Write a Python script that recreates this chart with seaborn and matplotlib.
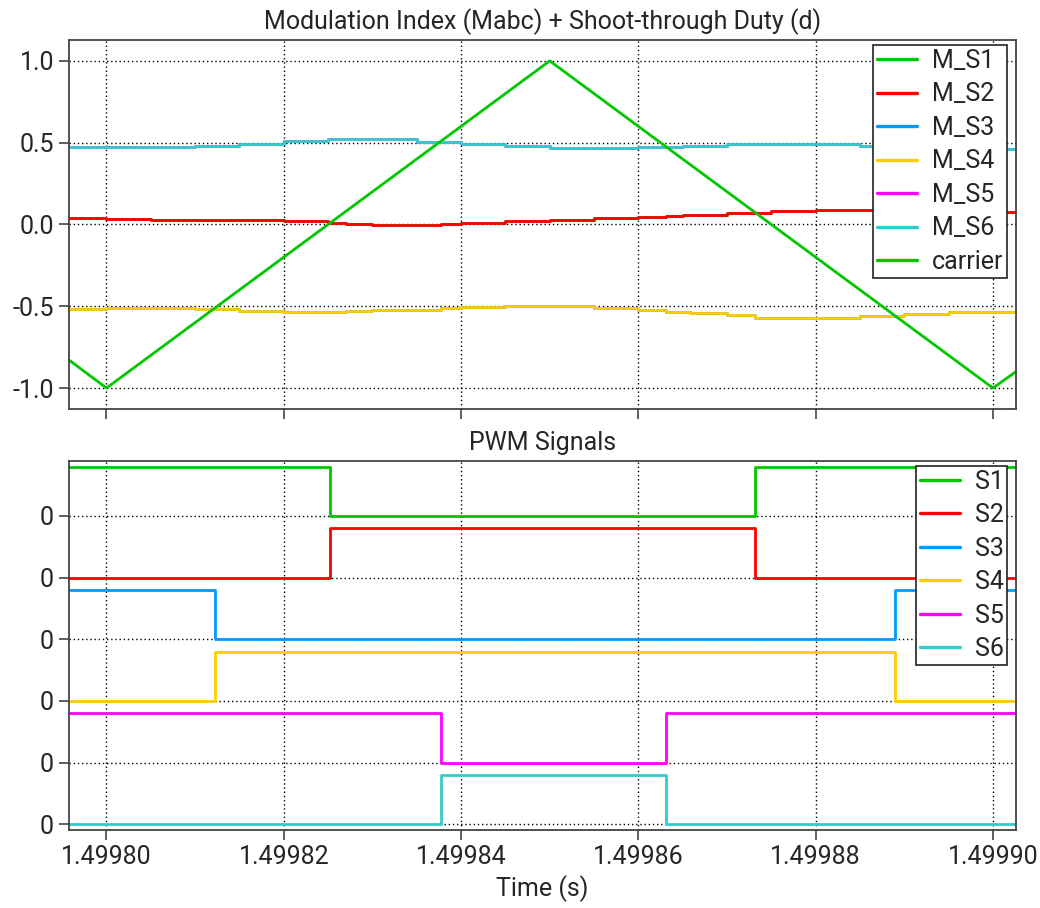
import pandas as pd
import matplotlib
matplotlib.use('Agg')
import matplotlib.pyplot as plt
import seaborn as sns

# ── Data ─────────────────────────────────────────────────────────────────────
X_MIN, X_MAX = 1.4997958, 1.4999026

# modulation signals: step start times + values (steps-post)
M_S12_T = [X_MIN, 1.499800, 1.499805, 1.499810, 1.499820, 1.499825, 1.4998270,
           1.499830, 1.4998377, 1.499840, 1.499845, 1.499850, 1.499855, 1.499860,
           1.4998631, 1.499865, 1.499870, 1.499875, 1.499880, 1.499895, 1.499900]
M_S12_V = [0.038, 0.034, 0.029, 0.026, 0.020, 0.009, 0.003,
           -0.003, 0.005, 0.011, 0.020, 0.028, 0.038, 0.048,
           0.054, 0.060, 0.072, 0.083, 0.089, 0.082, 0.075]

M_S34_T = [X_MIN, 1.499800, 1.499810, 1.499815, 1.499820, 1.4998270, 1.499830,
           1.499835, 1.4998377, 1.499840, 1.499845, 1.499855, 1.499860, 1.4998631,
           1.4998658, 1.499870, 1.4998732, 1.499885, 1.499890, 1.499895]
M_S34_V = [-0.517, -0.509, -0.517, -0.527, -0.535, -0.531, -0.525,
           -0.523, -0.513, -0.505, -0.497, -0.511, -0.521, -0.535,
           -0.544, -0.556, -0.570, -0.562, -0.550, -0.535]

M_S56_T = [X_MIN, 1.499810, 1.499815, 1.499820, 1.499825, 1.499835, 1.499840,
           1.499845, 1.499850, 1.499860, 1.499865, 1.499870, 1.499885, 1.499890,
           1.499895]
M_S56_V = [0.474, 0.482, 0.492, 0.509, 0.521, 0.506, 0.492,
           0.478, 0.466, 0.474, 0.482, 0.490, 0.478, 0.470,
           0.460]

CARRIER_T = [X_MIN, 1.49980, 1.49985, 1.49990, X_MAX]
CARRIER_V = [-0.83, -1.0, 1.0, -1.0, -0.90]

# PWM gate signals: edge times + levels (0/1)
S1_T, S1_V = [X_MIN, 1.4998252, 1.4998732], [1, 0, 1]
S2_T, S2_V = [X_MIN, 1.4998252, 1.4998732], [0, 1, 0]
S3_T, S3_V = [X_MIN, 1.4998122, 1.4998890], [1, 0, 1]
S4_T, S4_V = [X_MIN, 1.4998122, 1.4998890], [0, 1, 0]
S5_T, S5_V = [X_MIN, 1.4998377, 1.4998631], [1, 0, 1]
S6_T, S6_V = [X_MIN, 1.4998377, 1.4998631], [0, 1, 0]

X_TICKS = [1.49980, 1.49982, 1.49984, 1.49986, 1.49988, 1.49990]

# ── Palette ──────────────────────────────────────────────────────────────────
GREEN   = "#00C800"
RED     = "#FF0000"
BLUE    = "#0099FF"
YELLOW  = "#FFCC00"
MAGENTA = "#FF00FF"
CYAN    = "#33CCCC"
SPINE   = "#444444"

OFFSET = 1.25   # vertical spacing between stacked PWM traces

sns.set_style('white')
plt.rcParams['font.family'] = ['Roboto', 'DejaVu Sans']
plt.rcParams['axes.unicode_minus'] = False
FS = 18


def step_df(t, v):
    # extend last level to the right edge
    return pd.DataFrame({'t': list(t) + [X_MAX], 'v': list(v) + [v[-1]]})


def trace(ax, t, v, color, label, offset=0.0, steps=True):
    df = step_df(t, v) if steps else pd.DataFrame({'t': t, 'v': v})
    df['v'] = df['v'] + offset
    sns.lineplot(data=df, x='t', y='v', ax=ax, color=color, label=label,
                 estimator=None, sort=False, linewidth=2.0,
                 drawstyle='steps-post' if steps else 'default')


def style(ax):
    for s in ax.spines.values():
        s.set_color(SPINE)
        s.set_linewidth(1.3)
    ax.grid(True, color='black', linestyle=(0, (1, 2)), linewidth=1.0)
    ax.tick_params(axis='both', direction='out', length=7, width=1.2,
                   color=SPINE, labelsize=FS, pad=4, left=True, bottom=True)
    ax.set_xlim(X_MIN, X_MAX)
    ax.set_xticks(X_TICKS)
    ax.set_xlabel('')
    ax.set_ylabel('')


def legend(ax):
    leg = ax.legend(loc='upper right', bbox_to_anchor=(0.991, 0.986),
                    fontsize=FS, frameon=True, fancybox=False, framealpha=1,
                    edgecolor='#222222', borderpad=0.15, borderaxespad=0,
                    labelspacing=0.38, handlelength=1.6, handletextpad=0.6)
    leg.get_frame().set_linewidth(1.2)
    for h in leg.get_lines():
        h.set_linewidth(2.4)


fig = plt.figure(figsize=(10.4, 9.08), dpi=100)
ax1 = fig.add_axes([0.0666, 0.5496, 0.9103, 0.4064])
ax2 = fig.add_axes([0.0666, 0.0859, 0.9103, 0.4067])

# ── Top: modulation index + carrier ──────────────────────────────────────────
trace(ax1, M_S12_T, M_S12_V, GREEN, 'M_S1')
trace(ax1, M_S12_T, M_S12_V, RED, 'M_S2')
trace(ax1, M_S34_T, M_S34_V, BLUE, 'M_S3')
trace(ax1, M_S34_T, M_S34_V, YELLOW, 'M_S4')
trace(ax1, M_S56_T, M_S56_V, MAGENTA, 'M_S5')
trace(ax1, M_S56_T, M_S56_V, CYAN, 'M_S6')
trace(ax1, CARRIER_T, CARRIER_V, GREEN, 'carrier', steps=False)
style(ax1)
ax1.set_ylim(-1.128, 1.128)
ax1.set_yticks([1.0, 0.5, 0.0, -0.5, -1.0])
ax1.set_yticklabels(['1.0', '0.5', '0.0', '-0.5', '-1.0'])
ax1.set_xticklabels([])
ax1.set_title('Modulation Index (Mabc) + Shoot-through Duty (d)', fontsize=FS, pad=8)
legend(ax1)

# ── Bottom: stacked PWM signals ──────────────────────────────────────────────
pwm = [(S1_T, S1_V, GREEN, 'S1'), (S2_T, S2_V, RED, 'S2'),
       (S3_T, S3_V, BLUE, 'S3'), (S4_T, S4_V, YELLOW, 'S4'),
       (S5_T, S5_V, MAGENTA, 'S5'), (S6_T, S6_V, CYAN, 'S6')]
n = len(pwm)
for i, (t, v, c, lab) in enumerate(pwm):
    trace(ax2, t, v, c, lab, offset=(n - 1 - i) * OFFSET)
style(ax2)
ax2.set_ylim(-0.115, (n - 1) * OFFSET + 1 + 0.12)
ax2.set_yticks([k * OFFSET for k in range(n)])
ax2.set_yticklabels(['0'] * n)
ax2.set_xticklabels([f"{x:.5f}" for x in X_TICKS])
ax2.set_title('PWM Signals', fontsize=FS, pad=8)
ax2.set_xlabel('Time (s)', fontsize=FS, labelpad=4)
legend(ax2)

fig.savefig('out.png', dpi=100, facecolor='white')
